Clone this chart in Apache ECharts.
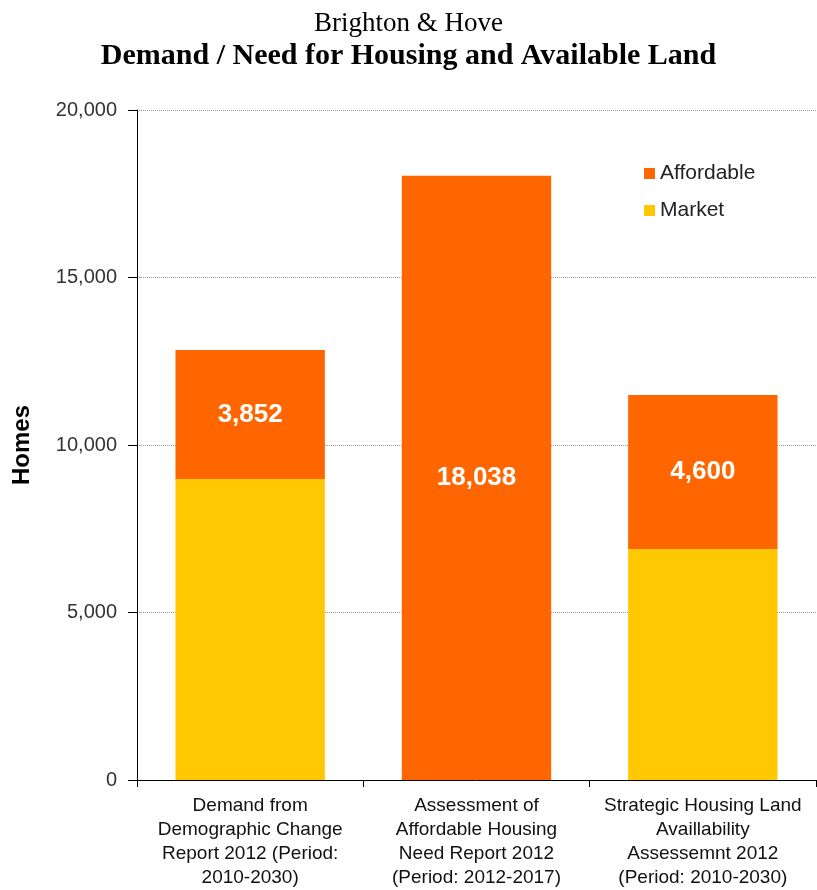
<!DOCTYPE html>
<html>
<head>
<meta charset="utf-8">
<script src="https://cdn.jsdelivr.net/npm/echarts@6/dist/echarts.min.js"></script>
<style>
  html, body { margin: 0; padding: 0; background: #fff; }
  #chart { width: 817px; height: 890px; }
</style>
</head>
<body>
<div id="chart"></div>
<script>
// 分类与数据
const categories = [
  'Demand from\nDemographic Change\nReport 2012 (Period:\n2010-2030)',
  'Assessment of\nAffordable Housing\nNeed Report 2012\n(Period: 2012-2017)',
  'Strategic Housing Land\nAvaillability\nAssessemnt 2012\n(Period: 2010-2030)'
]
const marketValues = [8984, 0, 6893]
const affordableValues = [3852, 18038, 4600]
const yTicks = [0, 5000, 10000, 15000, 20000]

const chart = echarts.init(document.getElementById('chart'))

const option = {
  animation: false,
  title: [
    {
      text: 'Brighton & Hove',
      left: 'center',
      top: 5,
      textStyle: { fontFamily: 'Liberation Serif', fontWeight: 'normal', fontSize: 27, color: '#000' }
    },
    {
      text: 'Demand / Need for Housing and Available Land',
      left: 'center',
      top: 36,
      textStyle: { fontFamily: 'Liberation Serif', fontWeight: 'bold', fontSize: 30, color: '#000' }
    }
  ],
  legend: {
    orient: 'vertical',
    left: 639,
    top: 158,
    itemWidth: 11,
    itemHeight: 11,
    itemGap: 16,
    icon: 'rect',
    data: ['Affordable', 'Market'],
    textStyle: { fontFamily: 'Liberation Sans', fontSize: 21, color: '#222' }
  },
  grid: { left: 137, right: 1, top: 110, bottom: 110 },
  xAxis: {
    type: 'category',
    data: categories,
    axisLine: { lineStyle: { color: '#000', width: 1 } },
    axisTick: { show: true, length: 7, lineStyle: { color: '#000' } },
    axisLabel: {
      interval: 0,
      margin: 14,
      fontFamily: 'Liberation Sans',
      fontSize: 19,
      lineHeight: 24,
      color: '#111'
    }
  },
  yAxis: {
    type: 'value',
    min: 0,
    max: 20000,
    interval: 5000,
    name: 'Homes',
    nameLocation: 'middle',
    nameGap: 103,
    nameTextStyle: { fontFamily: 'Liberation Sans', fontWeight: 'bold', fontSize: 24, color: '#000' },
    axisLine: { show: true, lineStyle: { color: '#000', width: 1 } },
    axisTick: { show: true, length: 9, lineStyle: { color: '#000' } },
    splitLine: { lineStyle: { color: '#999', type: 'dotted', width: 1 } },
    axisLabel: {
      margin: 20,
      fontFamily: 'Liberation Sans',
      fontSize: 20,
      color: '#333',
      formatter: v => yTicks.includes(v) ? v.toLocaleString('en-US') : ''
    }
  },
  series: [
    {
      name: 'Market',
      type: 'bar',
      stack: 'total',
      barWidth: '66%',
      itemStyle: { color: '#FFC800' },
      data: marketValues
    },
    {
      name: 'Affordable',
      type: 'bar',
      stack: 'total',
      barWidth: '66%',
      itemStyle: { color: '#FF6600' },
      label: {
        show: true,
        position: 'inside',
        fontFamily: 'Liberation Sans',
        fontWeight: 'bold',
        fontSize: 26,
        color: '#fff',
        formatter: p => p.value.toLocaleString('en-US')
      },
      data: affordableValues
    }
  ]
}

chart.setOption(option)
</script>
</body>
</html>
